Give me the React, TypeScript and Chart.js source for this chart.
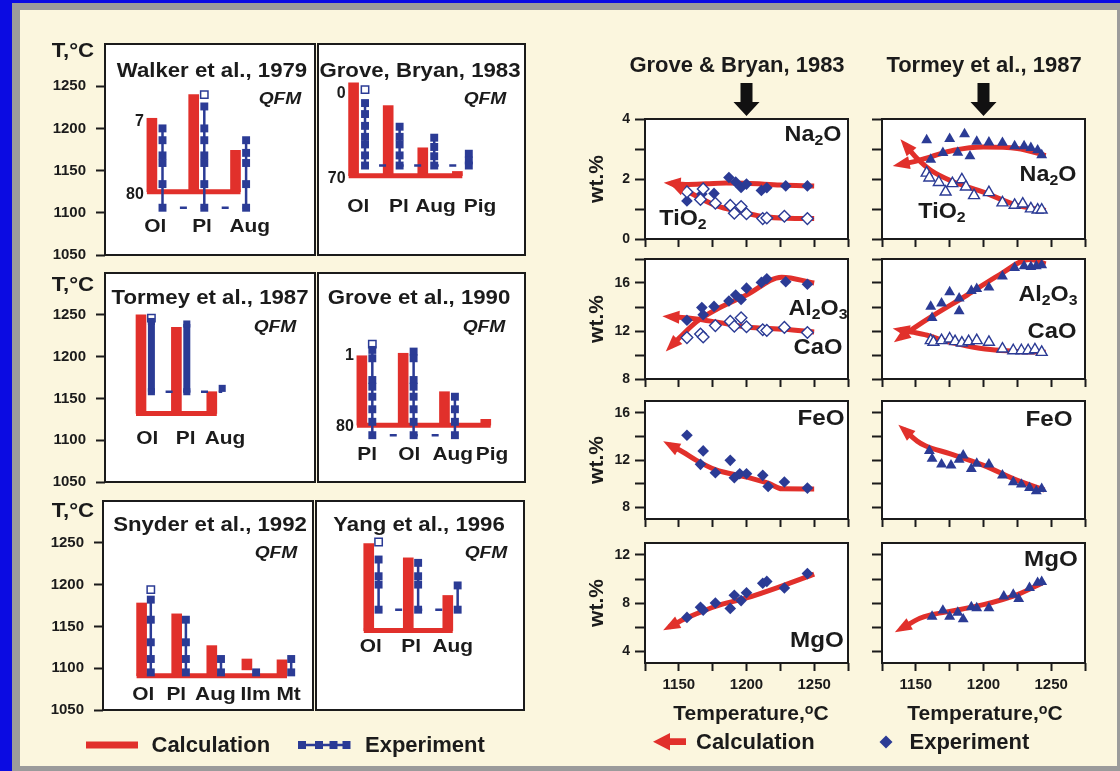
import React, { useEffect, useRef } from 'react';
import { Chart, registerables } from 'chart.js';

Chart.register(...registerables);

const RED = '#e1302b';
const BLUE = '#2b3b95';
const INK = '#1b1b1b';
const CREAM = '#fbf6de';
const FONT = '"Liberation Sans", Arial, Helvetica, sans-serif';

// ---------------- Crystallization sequences, T in °C ----------------
const seqTempTicks = [1050, 1100, 1150, 1200, 1250];

// Walker et al., 1979
const walkerPhases = ['Ol', 'Pl', 'Aug'];
const walkerCalcTop = [1212, 1240, 1174];
const walkerCalcBase = 1125;
const walkerExpOl = [1200, 1186, 1168, 1159, 1134, 1106];
const walkerExpPl = [1226, 1200, 1186, 1168, 1159, 1134, 1106];
const walkerExpAug = [1186, 1171, 1159, 1134, 1106];
const walkerExpOpen = [null, 1240, null];
const walkerExpBase = 1106;
const walkerPct = ['7', '80'];

// Grove, Bryan, 1983
const gb83Phases = ['Ol', 'Pl', 'Aug', 'Pig'];
const gb83CalcTop = [1254, 1227, 1177, 1149];
const gb83CalcBase = 1144;
const gb83ExpOl = [1230, 1217, 1203, 1190, 1181, 1168, 1156];
const gb83ExpPl = [1202, 1190, 1181, 1168, 1156];
const gb83ExpAug = [1189, 1178, 1167, 1156];
const gb83ExpPig = [1170, 1162, 1156];
const gb83ExpOpen = [1246, null, null, null];
const gb83ExpBase = 1156;
const gb83Pct = ['0', '70'];

// Tormey et al., 1987
const tormeyPhases = ['Ol', 'Pl', 'Aug'];
const tormeyCalcTop = [1250, 1235, 1158];
const tormeyCalcBase = 1132;
const tormeyExpOl = [1242, 1158];
const tormeyExpPl = [1239, 1158];
const tormeyExpAug = [1162];
const tormeyExpOpen = [1246, null, null];
const tormeyExpBase = 1158;

// Grove et al., 1990
const g90Phases = ['Pl', 'Ol', 'Aug', 'Pig'];
const g90CalcTop = [1201, 1204, 1158, 1125];
const g90CalcBase = 1118;
const g90ExpPl = [1208, 1198, 1172, 1164, 1152, 1137, 1122, 1106];
const g90ExpOl = [1206, 1198, 1172, 1164, 1152, 1137, 1122, 1106];
const g90ExpAug = [1152, 1137, 1122, 1106];
const g90ExpPig: number[] = [];
const g90ExpOpen = [1215, null, null, null];
const g90ExpBase = 1106;
const g90Pct = ['1', '80'];

// Snyder et al., 1992
const snyderPhases = ['Ol', 'Pl', 'Aug', 'Ilm', 'Mt'];
const snyderCalcTop = [1178, 1165, 1127, 1111, 1110];
const snyderCalcLow = [1091, 1091, 1091, 1098, 1091];
const snyderCalcBase = 1091;
const snyderExpOl = [1182, 1158, 1131, 1111, 1095];
const snyderExpPl = [1158, 1131, 1111, 1095];
const snyderExpAug = [1111, 1095];
const snyderExpIlm = [1095];
const snyderExpMt = [1111, 1095];
const snyderExpOpen = [1194, null, null, null, null];

// Yang et al., 1996
const yangPhases = ['Ol', 'Pl', 'Aug'];
const yangCalcTop = [1249, 1232, 1187];
const yangCalcBase = 1145;
const yangExpOl = [1230, 1210, 1200, 1170];
const yangExpPl = [1226, 1210, 1200, 1170];
const yangExpAug = [1199, 1170];
const yangExpOpen = [1251, null, null];
const yangExpBase = 1170;

// ---------------- Liquid compositions, wt.% vs T ----------------
const compTempTicks = [1125, 1150, 1175, 1200, 1225, 1250, 1275];
const compTempLabels = [1150, 1200, 1250];

// Grove & Bryan, 1983
const gbNa2oT = [1156, 1167, 1176, 1187, 1192, 1196, 1200, 1211, 1215, 1229, 1245];
const gbNa2oWt = [1.27, 1.5, 1.52, 2.05, 1.9, 1.72, 1.83, 1.62, 1.71, 1.77, 1.77];
const gbTio2T = [1156, 1166, 1168, 1177, 1188, 1191, 1196, 1200, 1212, 1215, 1228, 1245];
const gbTio2Wt = [1.57, 1.32, 1.67, 1.19, 1.12, 0.86, 1.08, 0.84, 0.68, 0.7, 0.76, 0.68];
const gbNa2oCalcT = [1144, 1155, 1170, 1185, 1200, 1225, 1250];
const gbNa2oCalcWt = [1.86, 1.82, 1.84, 1.87, 1.86, 1.8, 1.77];
const gbTio2CalcT = [1147, 1155, 1165, 1176, 1188, 1200, 1212, 1230, 1250];
const gbTio2CalcWt = [1.8, 1.62, 1.38, 1.14, 0.98, 0.86, 0.75, 0.69, 0.68];

const gbAl2o3T = [1156, 1167, 1168, 1176, 1187, 1192, 1196, 1200, 1211, 1215, 1229, 1245];
const gbAl2o3Wt = [12.9, 13.95, 13.35, 14.05, 14.5, 15.0, 14.62, 15.57, 16.05, 16.35, 16.1, 15.9];
const gbCaoT = [1156, 1166, 1168, 1177, 1188, 1191, 1196, 1200, 1212, 1215, 1228, 1245];
const gbCaoWt = [11.45, 11.75, 11.5, 12.45, 12.8, 12.4, 13.1, 12.35, 12.1, 12.05, 12.3, 11.88];
const gbAl2o3CalcT = [1144, 1151, 1163, 1177, 1200, 1226, 1250];
const gbAl2o3CalcWt = [10.7, 11.5, 12.76, 13.75, 15.0, 16.48, 16.0];
const gbCaoCalcT = [1143, 1150, 1163, 1177, 1200, 1228, 1250];
const gbCaoCalcWt = [13.2, 13.15, 13.0, 12.76, 12.34, 12.14, 11.92];

const gbFeoT = [1156, 1166, 1168, 1177, 1188, 1191, 1195, 1200, 1212, 1216, 1228, 1245];
const gbFeoWt = [14.1, 11.63, 12.77, 10.92, 11.97, 10.5, 10.84, 10.84, 10.7, 9.76, 10.13, 9.62];
const gbFeoCalcT = [1143, 1153, 1163, 1177, 1200, 1217, 1226, 1250];
const gbFeoCalcWt = [13.3, 12.68, 11.97, 11.18, 10.55, 9.99, 9.56, 9.55];

const gbMgoT = [1156, 1166, 1168, 1177, 1188, 1191, 1196, 1200, 1212, 1215, 1228, 1245];
const gbMgoWt = [6.8, 7.65, 7.4, 8.0, 7.55, 8.65, 8.2, 8.85, 9.65, 9.8, 9.25, 10.45];
const gbMgoCalcT = [1143, 1153, 1163, 1177, 1200, 1226, 1250];
const gbMgoCalcWt = [6.0, 6.6, 7.1, 7.72, 8.42, 9.41, 10.4];

// Tormey et al., 1987
const tmNa2oT = [1158, 1161, 1170, 1175, 1181, 1186, 1190, 1195, 1204, 1214, 1223, 1230, 1235, 1240, 1243];
const tmNa2oWt = [3.3, 2.65, 2.87, 3.34, 2.88, 3.5, 2.76, 3.25, 3.22, 3.21, 3.1, 3.1, 3.04, 2.96, 2.8];
const tmTio2T = [1158, 1160, 1167, 1172, 1177, 1184, 1187, 1193, 1204, 1214, 1223, 1229, 1235, 1240, 1243];
const tmTio2Wt = [2.2, 2.04, 1.89, 1.57, 1.85, 1.98, 1.74, 1.45, 1.55, 1.21, 1.13, 1.17, 1.01, 0.97, 0.97];
const tmNa2oCalcT = [1138, 1148, 1161, 1178, 1200, 1225, 1246];
const tmNa2oCalcWt = [2.48, 2.57, 2.74, 2.96, 3.07, 3.02, 2.78];
const tmTio2CalcT = [1142, 1151, 1161, 1178, 1200, 1225, 1246];
const tmTio2CalcWt = [3.15, 2.68, 2.29, 1.9, 1.56, 1.12, 0.95];

const tmAl2o3T = [1161, 1162, 1169, 1175, 1182, 1182, 1191, 1195, 1204, 1214, 1223, 1230, 1235, 1239, 1243];
const tmAl2o3Wt = [14.03, 13.1, 14.31, 15.24, 14.73, 13.66, 15.35, 15.52, 15.63, 16.56, 17.27, 17.41, 17.35, 17.41, 17.49];
const tmCaoT = [1161, 1163, 1169, 1175, 1179, 1184, 1189, 1195, 1204, 1214, 1222, 1228, 1233, 1238, 1243];
const tmCaoWt = [11.21, 11.07, 11.21, 11.35, 11.13, 11.01, 11.13, 11.21, 11.07, 10.51, 10.37, 10.37, 10.37, 10.45, 10.23];
const tmAl2o3CalcT = [1138, 1148, 1163, 1188, 1212, 1234, 1246];
const tmAl2o3CalcWt = [11.4, 12.2, 13.3, 15.0, 16.7, 17.95, 17.6];
const tmCaoCalcT = [1138, 1150, 1160, 1172, 1188, 1205, 1225, 1246];
const tmCaoCalcWt = [12.1, 11.85, 11.6, 11.15, 10.75, 10.45, 10.3, 10.23];

const tmFeoT = [1160, 1162, 1169, 1176, 1182, 1185, 1191, 1195, 1204, 1214, 1222, 1228, 1234, 1239, 1243];
const tmFeoWt = [12.77, 12.11, 11.63, 11.55, 12.03, 12.4, 11.26, 11.69, 11.63, 10.7, 10.13, 9.93, 9.65, 9.36, 9.56];
const tmFeoCalcT = [1141, 1151, 1157, 1175, 1200, 1225, 1245];
const tmFeoCalcWt = [14.6, 13.6, 13.2, 12.54, 11.55, 10.27, 9.45];

const tmMgoT = [1162, 1170, 1175, 1181, 1185, 1191, 1195, 1204, 1215, 1222, 1226, 1234, 1240, 1243];
const tmMgoWt = [6.87, 7.38, 6.87, 7.21, 6.65, 7.66, 7.58, 7.58, 8.56, 8.7, 8.34, 9.27, 9.69, 9.77];
const tmMgoCalcT = [1139, 1153, 1161, 1175, 1200, 1225, 1245];
const tmMgoCalcWt = [5.85, 6.73, 7.01, 7.3, 7.86, 8.7, 9.75];

// ---------------- types ----------------
type Box = { left: number; top: number; width: number; height: number };
type Margins = { l: number; t: number; r: number; b: number };
type SeqData = {
  phases: string[];
  calcTop: number[];
  calcLow?: number[];
  calcBase: number;
  exp: number[][];
  expOpen: (number | null)[];
  expBase: number | null;
  pct?: string[];
};
type SeqLayout = {
  box: Box;
  unitPx: number;
  firstPx: number;
  gap: number;
  labelT: number;
  labelDx: number[];
  pctDy?: number[];
  axis: boolean;
  expWidth: number;
};
type Marker = { T: number[]; wt: number[]; tri: boolean; open: boolean };
type Calc = { T: number[]; wt: number[] };
type Row = { top: number; height: number; min: number; max: number; ticks: number[]; labeled: number[] };

// ---------------- shared plugins ----------------
const panelFrame = {
  id: 'panelFrame',
  beforeDraw(chart: any) {
    const { ctx, chartArea: a } = chart;
    ctx.save();
    ctx.fillStyle = '#ffffff';
    ctx.fillRect(a.left, a.top, a.right - a.left, a.bottom - a.top);
    ctx.restore();
  },
  afterDraw(chart: any) {
    const { ctx, chartArea: a } = chart;
    ctx.save();
    ctx.strokeStyle = INK;
    ctx.lineWidth = 2;
    ctx.strokeRect(a.left, a.top, a.right - a.left, a.bottom - a.top);
    ctx.restore();
  },
};

// arrowhead at the low-temperature end of each calculated trend
const arrowHeads = {
  id: 'arrowHeads',
  afterDatasetsDraw(chart: any) {
    const ctx = chart.ctx;
    chart.data.datasets.forEach((ds: any, i: number) => {
      if (!ds.arrowStart) return;
      const pts = chart.getDatasetMeta(i).data;
      if (pts.length < 2) return;
      const p0 = pts[0];
      const p1 = pts[1];
      let dx = p0.x - p1.x;
      let dy = p0.y - p1.y;
      const len = Math.hypot(dx, dy) || 1;
      dx /= len;
      dy /= len;
      const tipX = p0.x + dx * 7;
      const tipY = p0.y + dy * 7;
      const bx = p0.x - dx * 10;
      const by = p0.y - dy * 10;
      const hw = 6.5;
      ctx.save();
      ctx.fillStyle = RED;
      ctx.beginPath();
      ctx.moveTo(tipX, tipY);
      ctx.lineTo(bx - dy * hw, by + dx * hw);
      ctx.lineTo(bx + dy * hw, by - dx * hw);
      ctx.closePath();
      ctx.fill();
      ctx.restore();
    });
  },
};

const tickFont = (size: number) => ({ family: FONT, size, weight: 'bold' as const });

// ---------------- sequence panels ----------------
function seqConfig(p: SeqData, L: SeqLayout, m: Margins) {
  const off = L.gap / L.unitPx;
  const half = 5 / L.unitPx;
  const n = p.phases.length;
  const xMin = -L.firstPx / L.unitPx;
  const xMax = xMin + L.box.width / L.unitPx;
  const low = p.calcLow ?? p.phases.map(() => p.calcBase);
  const datasets: any[] = [];

  p.exp.forEach((vals, i) => {
    if (!vals.length) return;
    datasets.push({
      type: 'line',
      data: vals.map((v) => ({ x: i + off, y: v })),
      borderColor: BLUE,
      borderWidth: L.expWidth,
      pointStyle: 'rect',
      pointRadius: L.expWidth > 4 ? 5 : 5.6,
      pointBackgroundColor: BLUE,
      pointBorderWidth: 0,
      order: 0,
    });
  });
  const open = p.expOpen
    .map((v, i) => (v == null ? null : { x: i + off, y: v }))
    .filter((v) => v !== null);
  if (open.length) {
    datasets.push({
      type: 'line',
      showLine: false,
      data: open,
      pointStyle: 'rect',
      pointRadius: 5.2,
      pointBackgroundColor: '#ffffff',
      pointBorderColor: BLUE,
      pointBorderWidth: 1.5,
      order: 0,
    });
  }
  if (p.expBase != null) {
    const last = p.exp.reduce((a, v, i) => (v.length ? i : a), 0);
    const period = L.unitPx / 2;
    datasets.push({
      type: 'line',
      data: [
        { x: off, y: p.expBase },
        { x: last + off, y: p.expBase },
      ],
      borderColor: BLUE,
      borderWidth: 2.5,
      borderDash: [7, period - 7],
      borderDashOffset: 3.5,
      pointRadius: 0,
      order: 1,
    });
  }
  datasets.push({
    type: 'bar',
    data: p.phases.map((_, i) => ({ x: i - off, y: [low[i], p.calcTop[i]] })),
    backgroundColor: RED,
    borderWidth: 0,
    barThickness: 10,
    grouped: false,
    order: 2,
  });
  datasets.push({
    type: 'line',
    data: [
      { x: -off - half, y: p.calcBase },
      { x: n - 1 - off + half, y: p.calcBase },
    ],
    borderColor: RED,
    borderWidth: 5,
    pointRadius: 0,
    order: 2,
  });

  const seqLabels = {
    id: 'seqLabels',
    afterDraw(chart: any) {
      const { ctx } = chart;
      const xs = chart.scales.x;
      const ys = chart.scales.y;
      ctx.save();
      ctx.fillStyle = INK;
      ctx.textBaseline = 'middle';
      ctx.textAlign = 'center';
      ctx.font = `bold 19px ${FONT}`;
      p.phases.forEach((name, i) => {
        ctx.save();
        ctx.translate(xs.getPixelForValue(i) + (L.labelDx[i] || 0), ys.getPixelForValue(L.labelT));
        ctx.scale(1.1, 1);
        ctx.fillText(name, 0, 0);
        ctx.restore();
      });
      if (p.pct) {
        const dy = L.pctDy || [3, 3];
        ctx.font = `bold 16px ${FONT}`;
        ctx.textAlign = 'right';
        const xr = xs.getPixelForValue(-off) - 5 - 3;
        ctx.fillText(p.pct[0], xr, ys.getPixelForValue(p.calcTop[0]) + dy[0]);
        ctx.fillText(p.pct[1], xr, ys.getPixelForValue(p.calcBase) + dy[1]);
      }
      ctx.restore();
    },
  };

  return {
    type: 'bar',
    data: { datasets },
    options: {
      responsive: false,
      animation: false,
      events: [],
      layout: { autoPadding: false, padding: { left: L.axis ? 0 : m.l, right: m.r, top: m.t, bottom: m.b } },
      plugins: { legend: { display: false }, tooltip: { enabled: false } },
      scales: {
        x: { type: 'linear', display: false, min: xMin, max: xMax, offset: false },
        y: {
          type: 'linear',
          display: L.axis,
          min: 1050,
          max: 1300,
          beginAtZero: false,
          afterBuildTicks: (s: any) => {
            s.ticks = seqTempTicks.map((v) => ({ value: v }));
          },
          afterFit: (s: any) => {
            s.width = m.l;
          },
          ticks: { font: tickFont(15), color: INK, padding: 10, callback: (v: any) => String(v) },
          grid: { drawOnChartArea: false, drawTicks: true, tickLength: 9, tickWidth: 2, tickColor: INK },
          border: { display: false },
        },
      },
    },
    plugins: [panelFrame, seqLabels],
  };
}

const seqPanels: { key: string; data: SeqData; layout: SeqLayout }[] = [
  {
    key: 'walker',
    data: {
      phases: walkerPhases,
      calcTop: walkerCalcTop,
      calcBase: walkerCalcBase,
      exp: [walkerExpOl, walkerExpPl, walkerExpAug],
      expOpen: walkerExpOpen,
      expBase: walkerExpBase,
      pct: walkerPct,
    },
    layout: {
      box: { left: 105, top: 44, width: 210, height: 211 },
      unitPx: 41.8, firstPx: 52.2, gap: 5.3, labelT: 1083.5, labelDx: [-2, 3, 9], pctDy: [3, 3], axis: true, expWidth: 2.5,
    },
  },
  {
    key: 'gb83',
    data: {
      phases: gb83Phases,
      calcTop: gb83CalcTop,
      calcBase: gb83CalcBase,
      exp: [gb83ExpOl, gb83ExpPl, gb83ExpAug, gb83ExpPig],
      expOpen: gb83ExpOpen,
      expBase: gb83ExpBase,
      pct: gb83Pct,
    },
    layout: {
      box: { left: 315, top: 44, width: 210, height: 211 },
      unitPx: 35.1, firstPx: 41.9, gap: 5.8, labelT: 1107, labelDx: [-1, 5, 7, 17], pctDy: [11, 3], axis: false, expWidth: 2.5,
    },
  },
  {
    key: 'tormey',
    data: {
      phases: tormeyPhases,
      calcTop: tormeyCalcTop,
      calcBase: tormeyCalcBase,
      exp: [tormeyExpOl, tormeyExpPl, tormeyExpAug],
      expOpen: tormeyExpOpen,
      expBase: tormeyExpBase,
    },
    layout: {
      box: { left: 105, top: 273, width: 210, height: 209 },
      unitPx: 35.4, firstPx: 41.2, gap: 5.2, labelT: 1102, labelDx: [1, 4, 8], axis: true, expWidth: 7,
    },
  },
  {
    key: 'g90',
    data: {
      phases: g90Phases,
      calcTop: g90CalcTop,
      calcBase: g90CalcBase,
      exp: [g90ExpPl, g90ExpOl, g90ExpAug, g90ExpPig],
      expOpen: g90ExpOpen,
      expBase: g90ExpBase,
      pct: g90Pct,
    },
    layout: {
      box: { left: 315, top: 273, width: 210, height: 209 },
      unitPx: 41.9, firstPx: 49.8, gap: 5.3, labelT: 1082, labelDx: [0, 1, 3, 1], pctDy: [0, 1], axis: false, expWidth: 2.5,
    },
  },
  {
    key: 'snyder',
    data: {
      phases: snyderPhases,
      calcTop: snyderCalcTop,
      calcLow: snyderCalcLow,
      calcBase: snyderCalcBase,
      exp: [snyderExpOl, snyderExpPl, snyderExpAug, snyderExpIlm, snyderExpMt],
      expOpen: snyderExpOpen,
      expBase: null,
    },
    layout: {
      box: { left: 103, top: 501, width: 210, height: 209 },
      unitPx: 35.1, firstPx: 43.2, gap: 4.6, labelT: 1068, labelDx: [-3, -5, -1, 4, 2], axis: true, expWidth: 2.5,
    },
  },
  {
    key: 'yang',
    data: {
      phases: yangPhases,
      calcTop: yangCalcTop,
      calcBase: yangCalcBase,
      exp: [yangExpOl, yangExpPl, yangExpAug],
      expOpen: yangExpOpen,
      expBase: yangExpBase,
    },
    layout: {
      box: { left: 313, top: 501, width: 211, height: 209 },
      unitPx: 40.1, firstPx: 58.5, gap: 5.0, labelT: 1125.5, labelDx: [-3, -2, 0], axis: false, expWidth: 2.5,
    },
  },
];

// ---------------- composition panels ----------------
const ROW_A: Row = { top: 119, height: 120, min: 0, max: 4, ticks: [0, 1, 2, 3, 4], labeled: [0, 2, 4] };
const ROW_B: Row = { top: 259, height: 120, min: 8, max: 18, ticks: [8, 10, 12, 14, 16, 18], labeled: [8, 12, 16] };
const ROW_C: Row = { top: 401, height: 118, min: 7, max: 17, ticks: [8, 10, 12, 14, 16], labeled: [8, 12, 16] };
const ROW_D: Row = { top: 543, height: 120, min: 3, max: 13, ticks: [4, 6, 8, 10, 12], labeled: [4, 8, 12] };
const COL_L = { left: 645, width: 203 };
const COL_R = { left: 882, width: 203 };

function compConfig(series: Marker[], calcs: Calc[], row: Row, yLabels: boolean, xLabels: boolean, m: Margins) {
  const datasets: any[] = [];
  series.forEach((s) =>
    datasets.push({
      type: 'scatter',
      data: s.T.map((t, i) => ({ x: t, y: s.wt[i] })),
      pointStyle: s.tri ? 'triangle' : 'rectRot',
      pointRadius: s.tri ? 6.3 : 5.8,
      pointBackgroundColor: s.open ? '#ffffff' : BLUE,
      pointBorderColor: BLUE,
      pointBorderWidth: s.open ? 1.4 : 0,
      order: 0,
    })
  );
  calcs.forEach((c) =>
    datasets.push({
      type: 'line',
      data: c.T.map((t, i) => ({ x: t, y: c.wt[i] })),
      borderColor: RED,
      borderWidth: 5,
      pointRadius: 0,
      cubicInterpolationMode: 'monotone',
      arrowStart: true,
      order: 1,
    })
  );
  return {
    type: 'scatter',
    data: { datasets },
    options: {
      responsive: false,
      animation: false,
      events: [],
      layout: { autoPadding: false, padding: { left: 0, right: m.r, top: m.t, bottom: 0 } },
      plugins: { legend: { display: false }, tooltip: { enabled: false } },
      scales: {
        x: {
          type: 'linear',
          min: 1125,
          max: 1275,
          afterBuildTicks: (s: any) => {
            s.ticks = compTempTicks.map((v) => ({ value: v }));
          },
          afterFit: (s: any) => {
            s.height = m.b;
          },
          ticks: {
            font: tickFont(15),
            color: INK,
            padding: 5,
            maxRotation: 0,
            autoSkip: false,
            callback: (v: any) => (xLabels && compTempLabels.includes(v) ? String(v) : ''),
          },
          grid: { drawOnChartArea: false, drawTicks: true, tickLength: 8, tickWidth: 2, tickColor: INK },
          border: { display: false },
        },
        y: {
          type: 'linear',
          min: row.min,
          max: row.max,
          afterBuildTicks: (s: any) => {
            s.ticks = row.ticks.map((v) => ({ value: v }));
          },
          afterFit: (s: any) => {
            s.width = m.l;
          },
          ticks: {
            font: tickFont(14),
            color: INK,
            padding: 5,
            autoSkip: false,
            callback: (v: any) => (yLabels && row.labeled.includes(v) ? String(v) : ''),
          },
          grid: { drawOnChartArea: false, drawTicks: true, tickLength: 10, tickWidth: 2, tickColor: INK },
          border: { display: false },
        },
      },
    },
    plugins: [panelFrame, arrowHeads],
  };
}

const dia = (T: number[], wt: number[], open = false): Marker => ({ T, wt, tri: false, open });
const tri = (T: number[], wt: number[], open = false): Marker => ({ T, wt, tri: true, open });
const calc = (T: number[], wt: number[]): Calc => ({ T, wt });

const compPanels = [
  { key: 'gbA', col: COL_L, row: ROW_A, series: [dia(gbTio2T, gbTio2Wt, true), dia(gbNa2oT, gbNa2oWt)], calcs: [calc(gbNa2oCalcT, gbNa2oCalcWt), calc(gbTio2CalcT, gbTio2CalcWt)] },
  { key: 'tmA', col: COL_R, row: ROW_A, series: [tri(tmTio2T, tmTio2Wt, true), tri(tmNa2oT, tmNa2oWt)], calcs: [calc(tmNa2oCalcT, tmNa2oCalcWt), calc(tmTio2CalcT, tmTio2CalcWt)] },
  { key: 'gbB', col: COL_L, row: ROW_B, series: [dia(gbCaoT, gbCaoWt, true), dia(gbAl2o3T, gbAl2o3Wt)], calcs: [calc(gbAl2o3CalcT, gbAl2o3CalcWt), calc(gbCaoCalcT, gbCaoCalcWt)] },
  { key: 'tmB', col: COL_R, row: ROW_B, series: [tri(tmCaoT, tmCaoWt, true), tri(tmAl2o3T, tmAl2o3Wt)], calcs: [calc(tmAl2o3CalcT, tmAl2o3CalcWt), calc(tmCaoCalcT, tmCaoCalcWt)] },
  { key: 'gbC', col: COL_L, row: ROW_C, series: [dia(gbFeoT, gbFeoWt)], calcs: [calc(gbFeoCalcT, gbFeoCalcWt)] },
  { key: 'tmC', col: COL_R, row: ROW_C, series: [tri(tmFeoT, tmFeoWt)], calcs: [calc(tmFeoCalcT, tmFeoCalcWt)] },
  { key: 'gbD', col: COL_L, row: ROW_D, series: [dia(gbMgoT, gbMgoWt)], calcs: [calc(gbMgoCalcT, gbMgoCalcWt)] },
  { key: 'tmD', col: COL_R, row: ROW_D, series: [tri(tmMgoT, tmMgoWt)], calcs: [calc(tmMgoCalcT, tmMgoCalcWt)] },
];

// ---------------- components ----------------
function ChartCanvas({ box, m, make }: { box: Box; m: Margins; make: (m: Margins) => any }) {
  const ref = useRef<HTMLCanvasElement>(null);
  useEffect(() => {
    const chart = new Chart(ref.current as HTMLCanvasElement, make(m));
    return () => chart.destroy();
  }, []);
  const w = box.width + m.l + m.r;
  const h = box.height + m.t + m.b;
  return (
    <canvas
      ref={ref}
      width={w}
      height={h}
      style={{ position: 'absolute', left: box.left - m.l, top: box.top - m.t, width: w, height: h }}
    />
  );
}

function Txt({ x, y, size = 20, sx = 1, align = 'center', italic = false, rotate = 0, children }: any) {
  const tx = align === 'left' ? '0' : '-50%';
  return (
    <div
      style={{
        position: 'absolute',
        left: x,
        top: y,
        whiteSpace: 'nowrap',
        lineHeight: 1,
        font: `${italic ? 'italic ' : ''}bold ${size}px ${FONT}`,
        color: INK,
        transform: `translate(${tx}, -50%) rotate(${rotate}deg) scaleX(${sx})`,
        transformOrigin: align === 'left' ? 'left center' : 'center center',
      }}
    >
      {children}
    </div>
  );
}

const Sub = ({ children }: any) => (
  <span style={{ fontSize: '0.68em', position: 'relative', top: '0.3em' }}>{children}</span>
);
const Sup = ({ children }: any) => (
  <span style={{ fontSize: '0.68em', position: 'relative', top: '-0.42em' }}>{children}</span>
);

export default function App() {
  const arrowXs = [COL_L, COL_R].map((c) => c.left + (c.width * (1200 - 1125)) / 150);
  return (
    <div
      style={{
        position: 'absolute',
        left: 0,
        top: 0,
        width: 1120,
        height: 771,
        overflow: 'hidden',
        background: '#0b0be2',
        fontFamily: FONT,
      }}
    >
      <div style={{ position: 'absolute', left: 12, top: 3, right: 0, bottom: 0, background: '#9b9b9b' }} />
      <div style={{ position: 'absolute', left: 20, top: 10, width: 1097, height: 756, background: CREAM }} />

      {seqPanels.map((p) => {
        const m = p.layout.axis ? { l: 62, t: 22, r: 2, b: 22 } : { l: 3, t: 22, r: 4, b: 22 };
        return <ChartCanvas key={p.key} box={p.layout.box} m={m} make={(mm) => seqConfig(p.data, p.layout, mm)} />;
      })}

      {compPanels.map((p) => {
        const leftCol = p.col === COL_L;
        const bottom = p.row === ROW_D;
        const m = { l: leftCol ? 45 : 14, t: 16, r: 9, b: bottom ? 30 : 16 };
        const box = { left: p.col.left, top: p.row.top, width: p.col.width, height: p.row.height };
        return (
          <ChartCanvas
            key={p.key}
            box={box}
            m={m}
            make={(mm) => compConfig(p.series, p.calcs, p.row, leftCol, bottom, mm)}
          />
        );
      })}

      <svg width={1120} height={771} style={{ position: 'absolute', left: 0, top: 0, pointerEvents: 'none' }}>
        {arrowXs.map((x, k) => (
          <polygon
            key={k}
            points={`${x - 6},83 ${x + 6},83 ${x + 6},102 ${x + 13},102 ${x},116 ${x - 13},102 ${x - 6},102`}
            fill="#111111"
          />
        ))}
        <rect x={86} y={741.5} width={52} height={7} fill={RED} />
        <line x1={299} y1={745} x2={350} y2={745} stroke={BLUE} strokeWidth={2.5} />
        {[302, 319, 333.5, 346.5].map((x) => (
          <rect key={x} x={x - 4} y={741} width={8} height={8} fill={BLUE} />
        ))}
        <polygon points="653,741.7 670,733 670,738.3 686,738.3 686,745.1 670,745.1 670,750.4" fill={RED} />
        <polygon points="886,735.5 892.5,742 886,748.5 879.5,742" fill={BLUE} />
      </svg>

      {/* left column headings */}
      {[50, 284, 510].map((y) => (
        <Txt key={y} x={73} y={y} size={21} sx={1.06}>
          T,°C
        </Txt>
      ))}
      <Txt x={212} y={69.5} sx={1.11}>Walker et al., 1979</Txt>
      <Txt x={420} y={69.5} sx={1.11}>Grove, Bryan, 1983</Txt>
      <Txt x={210} y={297} sx={1.11}>Tormey et al., 1987</Txt>
      <Txt x={419} y={297} sx={1.11}>Grove et al., 1990</Txt>
      <Txt x={210} y={523.5} sx={1.11}>Snyder et al., 1992</Txt>
      <Txt x={419} y={523.5} sx={1.11}>Yang et al., 1996</Txt>
      {[
        [280, 98.5],
        [485, 99],
        [275, 327],
        [484, 327],
        [276, 553],
        [486, 553],
      ].map(([x, y]) => (
        <Txt key={`${x}-${y}`} x={x} y={y} size={16} sx={1.2} italic>
          QFM
        </Txt>
      ))}

      {/* right column headings */}
      <Txt x={737} y={65} size={22}>Grove &amp; Bryan, 1983</Txt>
      <Txt x={984} y={65} size={22}>Tormey et al., 1987</Txt>
      {[179, 319, 460, 603].map((y) => (
        <Txt key={y} x={596} y={y} size={21} rotate={-90}>
          wt.%
        </Txt>
      ))}

      <Txt x={813} y={134} size={22} sx={1.06}>Na<Sub>2</Sub>O</Txt>
      <Txt x={683} y={218} size={22} sx={1.06}>TiO<Sub>2</Sub></Txt>
      <Txt x={1048} y={174} size={22} sx={1.06}>Na<Sub>2</Sub>O</Txt>
      <Txt x={942} y={211} size={22} sx={1.06}>TiO<Sub>2</Sub></Txt>
      <Txt x={818} y={308} size={22} sx={1.06}>Al<Sub>2</Sub>O<Sub>3</Sub></Txt>
      <Txt x={818} y={347} size={22} sx={1.08}>CaO</Txt>
      <Txt x={1048} y={294} size={22} sx={1.06}>Al<Sub>2</Sub>O<Sub>3</Sub></Txt>
      <Txt x={1052} y={331} size={22} sx={1.08}>CaO</Txt>
      <Txt x={821} y={418} size={22} sx={1.1}>FeO</Txt>
      <Txt x={1049} y={419} size={22} sx={1.1}>FeO</Txt>
      <Txt x={817} y={640} size={22} sx={1.1}>MgO</Txt>
      <Txt x={1051} y={559} size={22} sx={1.1}>MgO</Txt>

      <Txt x={751} y={713} size={21}>
        Temperature,<Sup>o</Sup>C
      </Txt>
      <Txt x={985} y={713} size={21}>
        Temperature,<Sup>o</Sup>C
      </Txt>

      {/* legends */}
      <Txt x={151.5} y={745} size={22} align="left">Calculation</Txt>
      <Txt x={365} y={745} size={22} align="left">Experiment</Txt>
      <Txt x={696} y={742} size={22} align="left">Calculation</Txt>
      <Txt x={909.5} y={742} size={22} align="left">Experiment</Txt>
    </div>
  );
}
